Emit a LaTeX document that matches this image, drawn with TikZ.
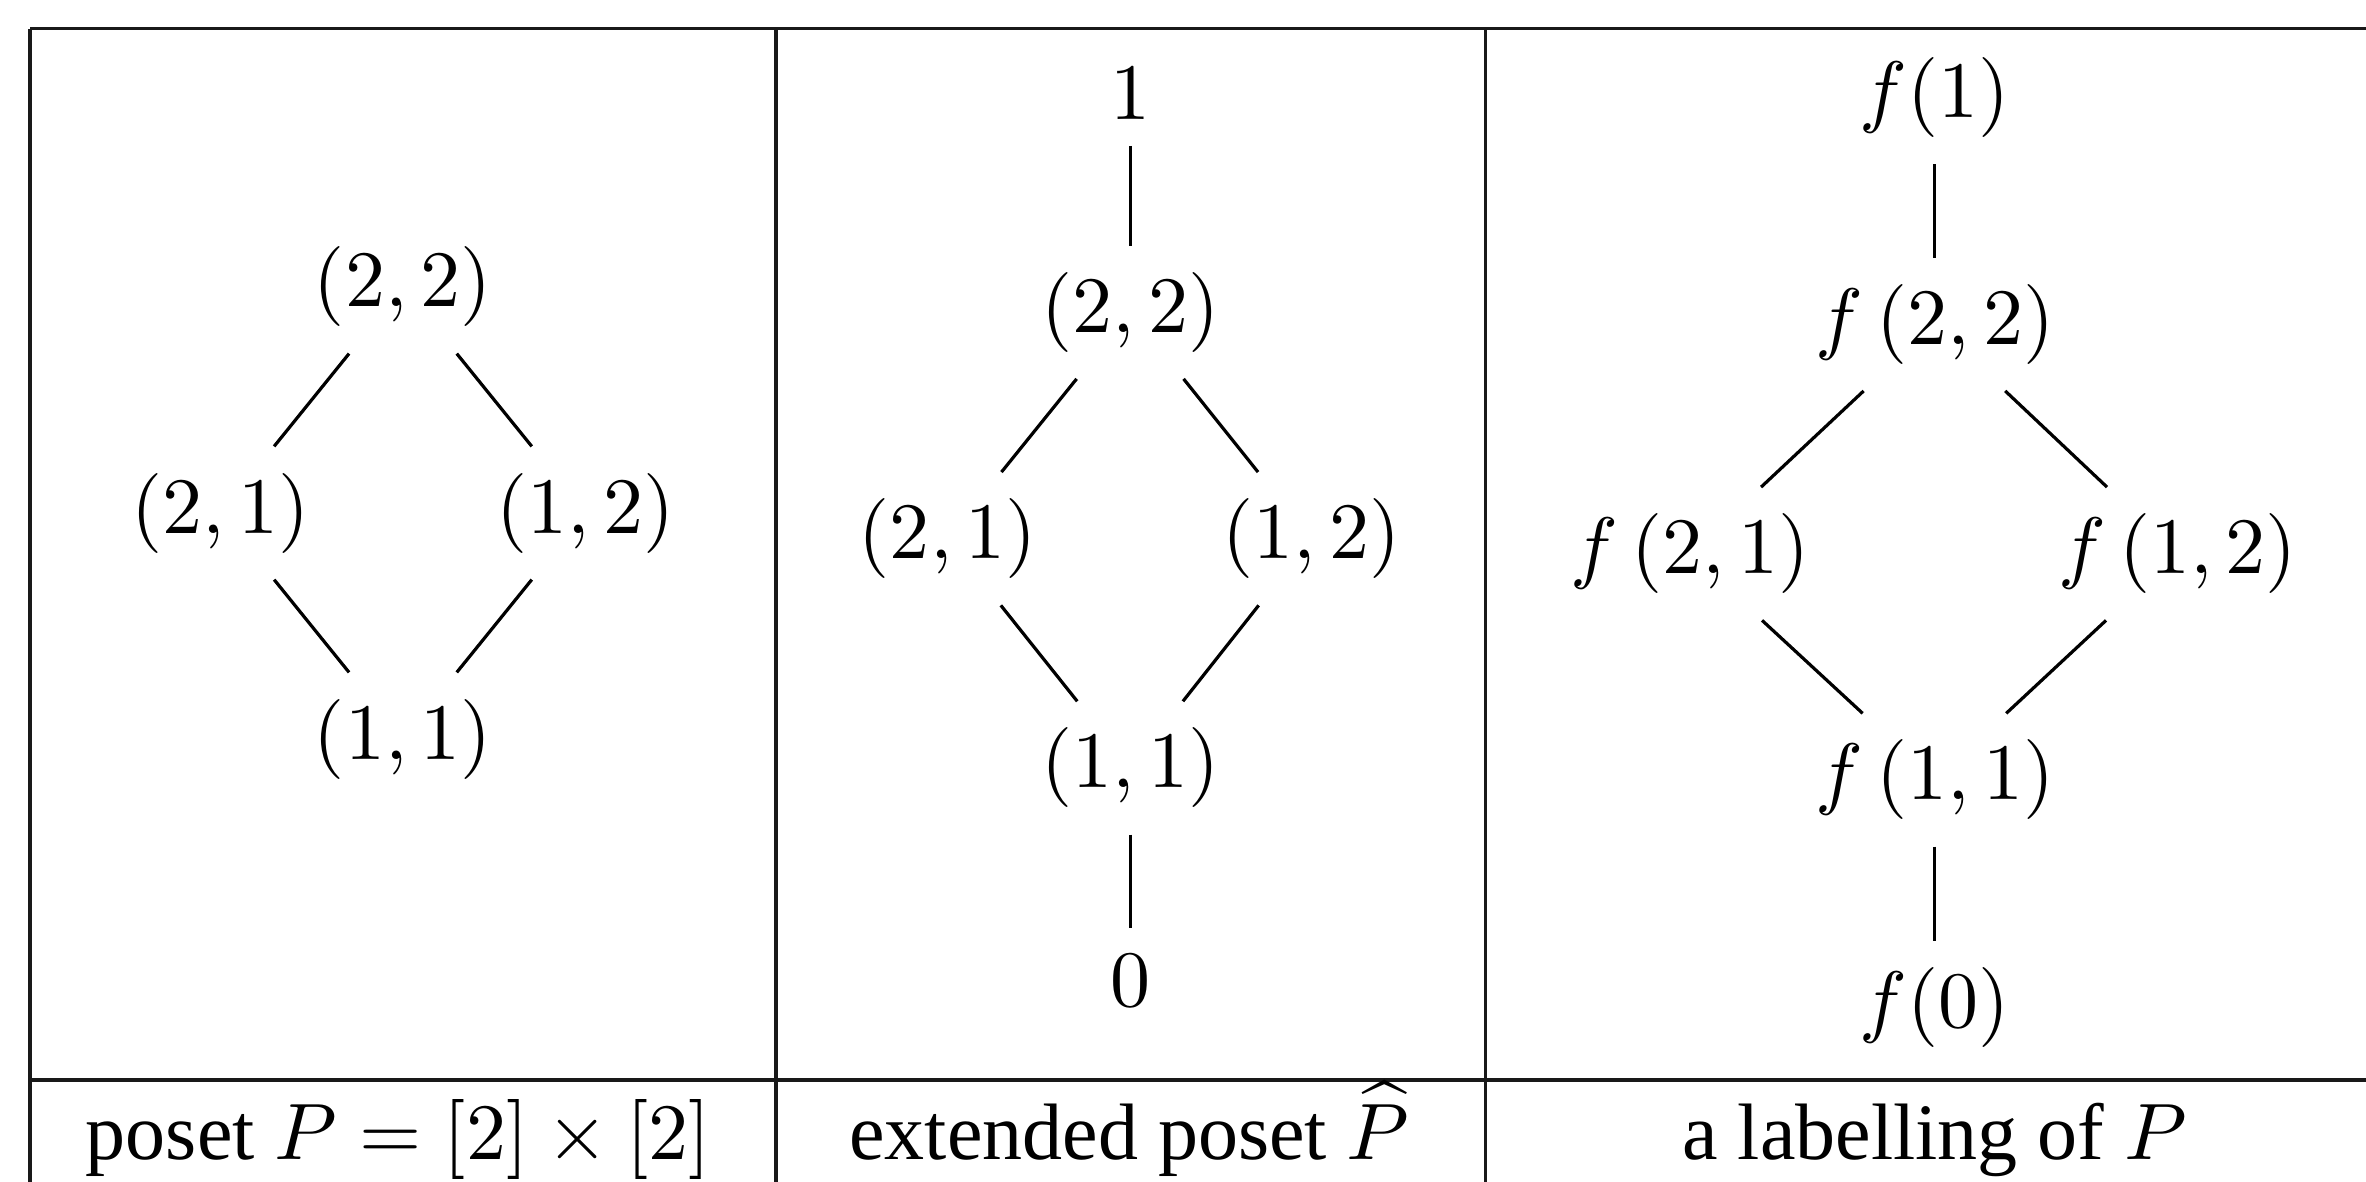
\documentclass[tikz,border=0pt]{standalone}
\usepackage{amsmath}
\usepackage[no-math]{fontspec}
\setmainfont{Liberation Serif}
\usepackage{tikz}
\usetikzlibrary{positioning}
\tikzset{
  elem/.style={inner sep=3.33pt, outer sep=0pt},
  cover/.style={thin, color=black},
  rule/.style={thin, color=black!90},
  caption/.style={anchor=base, inner sep=0pt}
}

\begin{document}
\begin{tikzpicture}
  \useasboundingbox (0,0) rectangle (10.395,5.193);

  % Table rules
  \draw[rule] (0.132,5.066) -- (10.395,5.066);
  \draw[rule] (0.132,0.448) -- (10.395,0.448);
  \draw[rule] (0.132,0) -- (0.132,5.066);
  \draw[rule] (3.409,0) -- (3.409,5.066);
  \draw[rule] (6.525,0) -- (6.525,5.066);

  % Poset P
  \node[elem] (p22) at (1.770,3.932) {$(2,2)$};
  \node[elem] (p21) at (0.968,2.939) {$(2,1)$};
  \node[elem] (p12) at (2.573,2.939) {$(1,2)$};
  \node[elem] (p11) at (1.770,1.946) {$(1,1)$};
  \draw[cover] (p22) -- (p21);
  \draw[cover] (p22) -- (p12);
  \draw[cover] (p21) -- (p11);
  \draw[cover] (p12) -- (p11);

  % Extended poset
  \node[elem] (e1)  at (4.966,4.782) {$1$};
  \node[elem] (e22) at (4.966,3.821) {$(2,2)$};
  \node[elem] (e21) at (4.164,2.826) {$(2,1)$};
  \node[elem] (e12) at (5.761,2.826) {$(1,2)$};
  \node[elem] (e11) at (4.966,1.819) {$(1,1)$};
  \node[elem] (e0)  at (4.966,0.884) {$0$};
  \draw[cover] (e1) -- (e22);
  \draw[cover] (e22) -- (e21);
  \draw[cover] (e22) -- (e12);
  \draw[cover] (e21) -- (e11);
  \draw[cover] (e12) -- (e11);
  \draw[cover] (e11) -- (e0);

  % Labelling
  \node[elem] (f1)  at (8.500,4.763) {$f(1)$};
  \node[elem] (f22) at (8.500,3.768) {$f\left(2,2\right)$};
  \node[elem] (f21) at (7.425,2.760) {$f\left(2,1\right)$};
  \node[elem] (f12) at (9.567,2.760) {$f\left(1,2\right)$};
  \node[elem] (f11) at (8.500,1.766) {$f\left(1,1\right)$};
  \node[elem] (f0)  at (8.500,0.765) {$f(0)$};
  \draw[cover] (f1) -- (f22);
  \draw[cover] (f22) -- (f21);
  \draw[cover] (f22) -- (f12);
  \draw[cover] (f21) -- (f11);
  \draw[cover] (f12) -- (f11);
  \draw[cover] (f11) -- (f0);

  % Captions
  \node[caption] (cap1) at (1.750,0.097) {poset $P=[2]\times[2]$};
  \node[caption] (cap2) at (4.962,0.097) {extended poset $\widehat{P}$};
  \node[caption] (cap3) at (8.500,0.097) {a labelling of $P$};
\end{tikzpicture}
\end{document}
